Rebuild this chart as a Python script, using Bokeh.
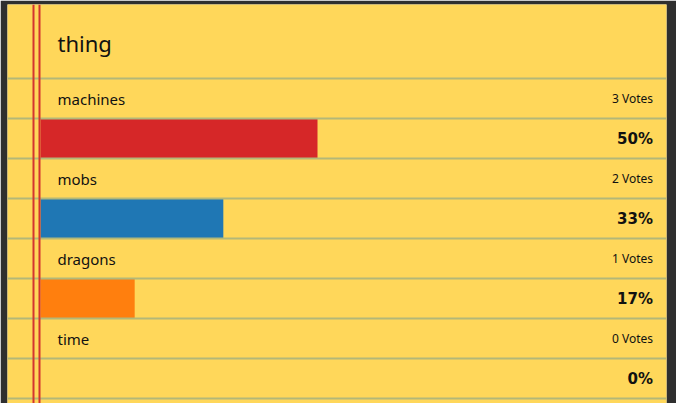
from bokeh.plotting import figure
from bokeh.models import Range1d, ColumnDataSource
from bokeh.core.properties import value
from bokeh.embed import file_html
from bokeh.resources import INLINE

# ---- data ----
title = "thing"
options = ["machines", "mobs", "dragons", "time"]
votes = [3, 2, 1, 0]
percents = [50, 33, 17, 0]
bar_colors = ["#d62728", "#1f77b4", "#ff7f0e", "#2ca02c"]

# ---- layout constants (pixels) ----
W, H = 676, 403
BORDER_L, BORDER_T, BORDER_R = 7, 4, 10
BAR_X0 = 40            # pixel where 0% sits
PX_PER_PCT = 5.54      # pixels per percent
ROW_H = 40
FIRST_LINE = 78
TEXT_LEFT = 57
TEXT_RIGHT = 652.5

frame_w = W - BORDER_L - BORDER_R


def px2x(px):
    return (px - BAR_X0) / PX_PER_PCT


x0 = px2x(BORDER_L)
p = figure(width=W, height=H, output_backend="svg", toolbar_location=None,
           x_range=Range1d(x0, x0 + frame_w / PX_PER_PCT),
           y_range=Range1d(H, BORDER_T),
           min_border_left=BORDER_L, min_border_top=BORDER_T,
           min_border_right=BORDER_R, min_border_bottom=0,
           background_fill_color="#FFD75A", border_fill_color="#2f2f2f")
p.xaxis.visible = False
p.yaxis.visible = False
p.grid.visible = False
p.outline_line_color = None

n = len(options)
bar_top = [FIRST_LINE + ROW_H * (2 * i + 1) for i in range(n)]
bar_bot = [t + ROW_H for t in bar_top]
src = ColumnDataSource(dict(left=[0] * n, right=percents, top=bar_top,
                            bottom=bar_bot, color=bar_colors[:n]))
p.quad(left="left", right="right", top="top", bottom="bottom",
       fill_color="color", line_color=None, source=src)

# ruled lines
lines_y = [FIRST_LINE + ROW_H * k for k in range(2 * n + 1)]
p.hspan(y=lines_y, line_color="#b3b878", line_width=2)
# margin lines
p.vspan(x=[px2x(33), px2x(39)], line_color="#d4342e", line_width=2)

label_y = [FIRST_LINE + ROW_H / 2 + 2 * ROW_H * i for i in range(n)]
pct_y = [y + ROW_H for y in label_y]

# title
p.text(x=[px2x(TEXT_LEFT)], y=[42], text=[title], text_font=value("Noto Sans"),
       text_font_size="22px", text_color="#111111", text_baseline="middle")

# option labels
p.text(x=[px2x(TEXT_LEFT)] * n, y=label_y,
       text=options, text_font=value("Noto Sans"), text_font_size="15px",
       text_color="#111111", text_baseline="middle")

# votes
p.text(x=[px2x(TEXT_RIGHT)] * n, y=label_y,
       text=[f"{v} Votes" for v in votes], text_font=value("Noto Sans"),
       text_font_size="12px", text_color="#111111", text_align="right",
       text_baseline="middle")

# percents
p.text(x=[px2x(TEXT_RIGHT)] * n, y=pct_y,
       text=[f"{v}%" for v in percents], text_font=value("DejaVu Sans"),
       text_font_size="15px", text_font_style="bold", text_color="#111111",
       text_align="right", text_baseline="middle")

open("out.html", "w").write(file_html(p, INLINE))
